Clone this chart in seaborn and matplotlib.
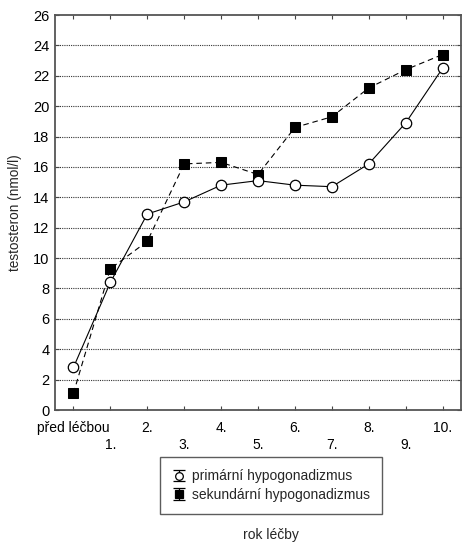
import matplotlib
matplotlib.use("Agg")
import matplotlib.pyplot as plt
from matplotlib.legend_handler import HandlerErrorbar
from matplotlib.container import ErrorbarContainer
from matplotlib.lines import Line2D
from matplotlib.collections import LineCollection
import seaborn as sns
import pandas as pd

years = ["před léčbou", "1.", "2.", "3.", "4.", "5.", "6.", "7.", "8.", "9.", "10."]
primarni = [2.8, 8.4, 12.9, 13.7, 14.8, 15.1, 14.8, 14.7, 16.2, 18.9, 22.5]
sekundarni = [1.1, 9.3, 11.1, 16.2, 16.3, 15.5, 18.6, 19.3, 21.2, 22.4, 23.4]
labels = ["primární hypogonadizmus", "sekundární hypogonadizmus"]

sns.set_style("white")
plt.rcParams['font.family'] = ['Liberation Sans', 'DejaVu Sans']
plt.rcParams['font.size'] = 10

df = pd.DataFrame({"pos": range(len(years)), "prim": primarni, "sek": sekundarni})

fig = plt.figure(figsize=(4.62, 5.42), dpi=100)
ax = fig.add_axes([0.119, 0.2435, 0.879, 0.7288])

sns.lineplot(data=df, x="pos", y="sek", ax=ax, color="black", lw=0.8,
             linestyle=(0, (5, 3.5)), marker="s", markersize=6.5,
             markerfacecolor="black", markeredgecolor="black")
sns.lineplot(data=df, x="pos", y="prim", ax=ax, color="black", lw=0.8,
             marker="o", markersize=7.5, markerfacecolor="white",
             markeredgecolor="black", markeredgewidth=0.9)

ax.set_xlim(-0.5, 10.5)
ax.set_ylim(0, 26)
ax.set_yticks(range(0, 27, 2))
# even years on the first row, odd years on the second row
ax.set_xticks(range(0, len(years), 2))
ax.set_xticklabels(years[0::2])
ax.set_xticks(range(1, len(years), 2), minor=True)
ax.set_xticklabels(years[1::2], minor=True)
ax.tick_params(direction="in", top=True, right=True, left=True, bottom=True,
               length=3, width=0.8, colors="#444444", labelcolor="black",
               labelsize=10.5, pad=4)
ax.tick_params(axis="x", which="major", labelsize=10, pad=8)
ax.tick_params(axis="x", which="minor", direction="in", top=True, bottom=True,
               length=3, width=0.8, colors="#444444", labelcolor="black",
               labelsize=10, pad=20)
for y in range(2, 26, 2):
    ax.axhline(y, color="#333333", lw=0.8, linestyle=(0, (1, 1)), zorder=0)
for s in ax.spines.values():
    s.set_color("#555555")
    s.set_linewidth(1.3)

ax.set_xlabel("")
ax.set_ylabel("testosteron (nmol/l)", fontsize=9.8, labelpad=8)
fig.text(0.587, 0.013, "rok léčby", ha="center", va="center", fontsize=10)


def err_handle(mfc, marker):
    line = Line2D([], [], marker=marker, ls="none", color="black", mfc=mfc,
                  mec="black", ms=5.5, mew=0.9)
    cap = Line2D([], [], marker="_", ls="none", color="black", ms=8, mew=0.9)
    bars = LineCollection([], colors="black", linewidths=0.9)
    return ErrorbarContainer((line, (cap, cap), (bars,)), has_xerr=False, has_yerr=True)


h1 = err_handle("white", "o")
h2 = err_handle("black", "s")
leg = fig.legend([h1, h2], labels,
                 loc="upper center", bbox_to_anchor=(0.587, 0.157), borderaxespad=0,
                 frameon=True, fancybox=False, fontsize=10, handlelength=1.0,
                 handletextpad=0.4, borderpad=0.9, labelspacing=0.3,
                 handler_map={ErrorbarContainer: HandlerErrorbar(yerr_size=0.42)})
leg.get_frame().set_edgecolor("#333333")
leg.get_frame().set_linewidth(1.0)

fig.savefig("out.png", dpi=100)
